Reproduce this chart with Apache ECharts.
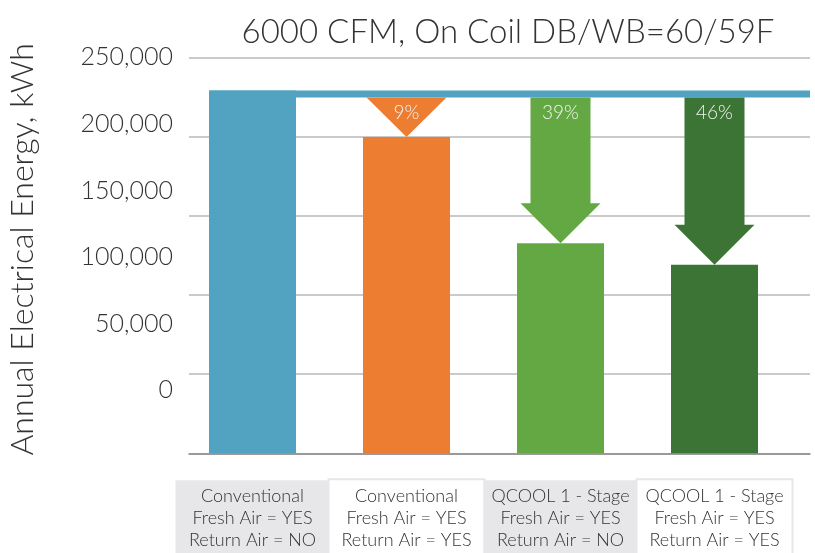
<!DOCTYPE html>
<html><head><meta charset="utf-8">
<script src="https://cdn.jsdelivr.net/npm/echarts@6/dist/echarts.min.js"></script>
<style>html,body{margin:0;padding:0;background:#fff}#c{width:815px;height:553px}</style>
</head><body><div id="c"></div>
<script>
// ---- data ----
const categories = [
  'Conventional\nFresh Air = YES\nReturn Air = NO',
  'Conventional\nFresh Air = YES\nReturn Air = YES',
  'QCOOL 1 - Stage\nFresh Air = YES\nReturn Air = NO',
  'QCOOL 1 - Stage\nFresh Air = YES\nReturn Air = YES'
];
const energyValues = [229000, 199700, 132600, 119000];
const savingsLabels = ['', '9%', '39%', '46%'];
const referenceBand = [224700, 229000];
const barColors = ['#52a3c1', '#ed7d31', '#64a844', '#3c7436'];
const titleText = '6000 CFM, On Coil DB/WB=60/59F';
const yAxisName = 'Annual Electrical Energy, kWh';

const FONT = 'Lato';
const BAR_W = 87;

const chart = echarts.init(document.getElementById('c'), null, {renderer: 'canvas'});

const catData = categories.map((c, i) => ({
  value: c,
  textStyle: i % 2 === 0
    ? {backgroundColor: '#e7e7e9'}
    : {backgroundColor: '#ffffff', borderColor: '#e7e7e9', borderWidth: 2}
}));

const arrowData = [];
for (let i = 1; i < energyValues.length; i++) {
  arrowData.push([i, referenceBand[0], energyValues[i], savingsLabels[i]]);
}

function renderArrow(params, api) {
  const i = api.value(0);
  const top = api.coord([i, api.value(1)]);
  const tip = api.coord([i, api.value(2)]);
  const x = top[0];
  const span = tip[1] - top[1];
  const headH = Math.min(40, span);
  const headW = 80, shaftW = 60;
  const neck = tip[1] - headH;
  let points;
  if (span > headH + 0.5) {
    points = [[x - shaftW / 2, top[1]], [x + shaftW / 2, top[1]], [x + shaftW / 2, neck],
              [x + headW / 2, neck], [x, tip[1]], [x - headW / 2, neck], [x - shaftW / 2, neck]];
  } else {
    points = [[x - headW / 2, top[1]], [x + headW / 2, top[1]], [x, tip[1]]];
  }
  return {
    type: 'group',
    children: [
      {type: 'polygon', shape: {points}, style: {fill: barColors[i]}},
      {type: 'text', style: {text: savingsLabels[i], x: x, y: top[1] + 15, align: 'center',
        verticalAlign: 'middle', fill: '#f4f4f4', font: '300 19px ' + FONT}}
    ]
  };
}

function renderBand(params, api) {
  const a = api.coord([api.value(0), api.value(2)]);
  const b = api.coord([api.value(0), api.value(1)]);
  const x0 = a[0] - BAR_W / 2;
  const x1 = params.coordSys.x + params.coordSys.width + 18.5;
  return {type: 'rect', shape: {x: x0, y: a[1], width: x1 - x0, height: b[1] - a[1]},
    style: {fill: barColors[0]}};
}

const option = {
  backgroundColor: '#ffffff',
  animation: false,
  title: {
    text: titleText, left: 503, top: 11, textAlign: 'center',
    textStyle: {fontFamily: FONT, fontWeight: 300, fontSize: 33, color: '#333'}
  },
  grid: [
    {left: 189, right: 5, top: 57.3, bottom: 99.7, outerBoundsMode: 'none', containLabel: false},
    {left: 175.5, right: 23.5, top: 57.3, bottom: 99.7, outerBoundsMode: 'none', containLabel: false},
    {left: 189, right: 5, top: 57.3, bottom: 96, outerBoundsMode: 'none', containLabel: false}
  ],
  xAxis: [
    {gridIndex: 0, type: 'value', min: 0, max: 1, axisLabel: {show: false}, axisTick: {show: false},
      splitLine: {show: false}, axisLine: {show: true, lineStyle: {color: '#8a8a8a', width: 1.5}}},
    {gridIndex: 1, type: 'category', data: catData, axisLine: {show: false}, axisTick: {show: false},
      axisLabel: {interval: 0, margin: 27, fontFamily: FONT, fontWeight: 300, fontSize: 18,
        lineHeight: 22, color: '#333', width: 154, align: 'center', padding: [5, 0, 6, 0]}},
    {gridIndex: 2, type: 'value', show: false, min: 0, max: 1}
  ],
  yAxis: [
    {gridIndex: 0, type: 'value', min: 0, max: 250000, interval: 50000,
      axisLabel: {show: false}, axisLine: {show: false}, axisTick: {show: false},
      splitLine: {show: true, lineStyle: {color: '#b8b8b8', width: 1.5}},
      name: yAxisName, nameLocation: 'middle', nameRotate: 90, nameGap: 150,
      nameTextStyle: {fontFamily: FONT, fontWeight: 300, fontSize: 32, color: '#333',
        padding: [0, 0, 0, 12]}},
    {gridIndex: 1, type: 'value', min: 0, max: 250000, show: false},
    {gridIndex: 2, type: 'value', min: -50000, max: 250000, interval: 50000,
      axisLine: {show: false}, axisTick: {show: false}, splitLine: {show: false},
      axisLabel: {margin: 16, fontFamily: FONT, fontWeight: 300, fontSize: 25, color: '#333',
        formatter: v => v < 0 ? '' : v.toLocaleString('en-US')}}
  ],
  series: [
    {type: 'bar', xAxisIndex: 1, yAxisIndex: 1, barWidth: BAR_W, z: 2,
      data: energyValues.map((v, i) => ({value: v, itemStyle: {color: barColors[i]}}))},
    {type: 'custom', xAxisIndex: 1, yAxisIndex: 1, renderItem: renderBand, clip: false, z: 3,
      data: [[0, referenceBand[0], referenceBand[1]]]},
    {type: 'custom', xAxisIndex: 1, yAxisIndex: 1, renderItem: renderArrow, clip: false, z: 4,
      data: arrowData}
  ]
};
chart.setOption(option);
</script></body></html>
